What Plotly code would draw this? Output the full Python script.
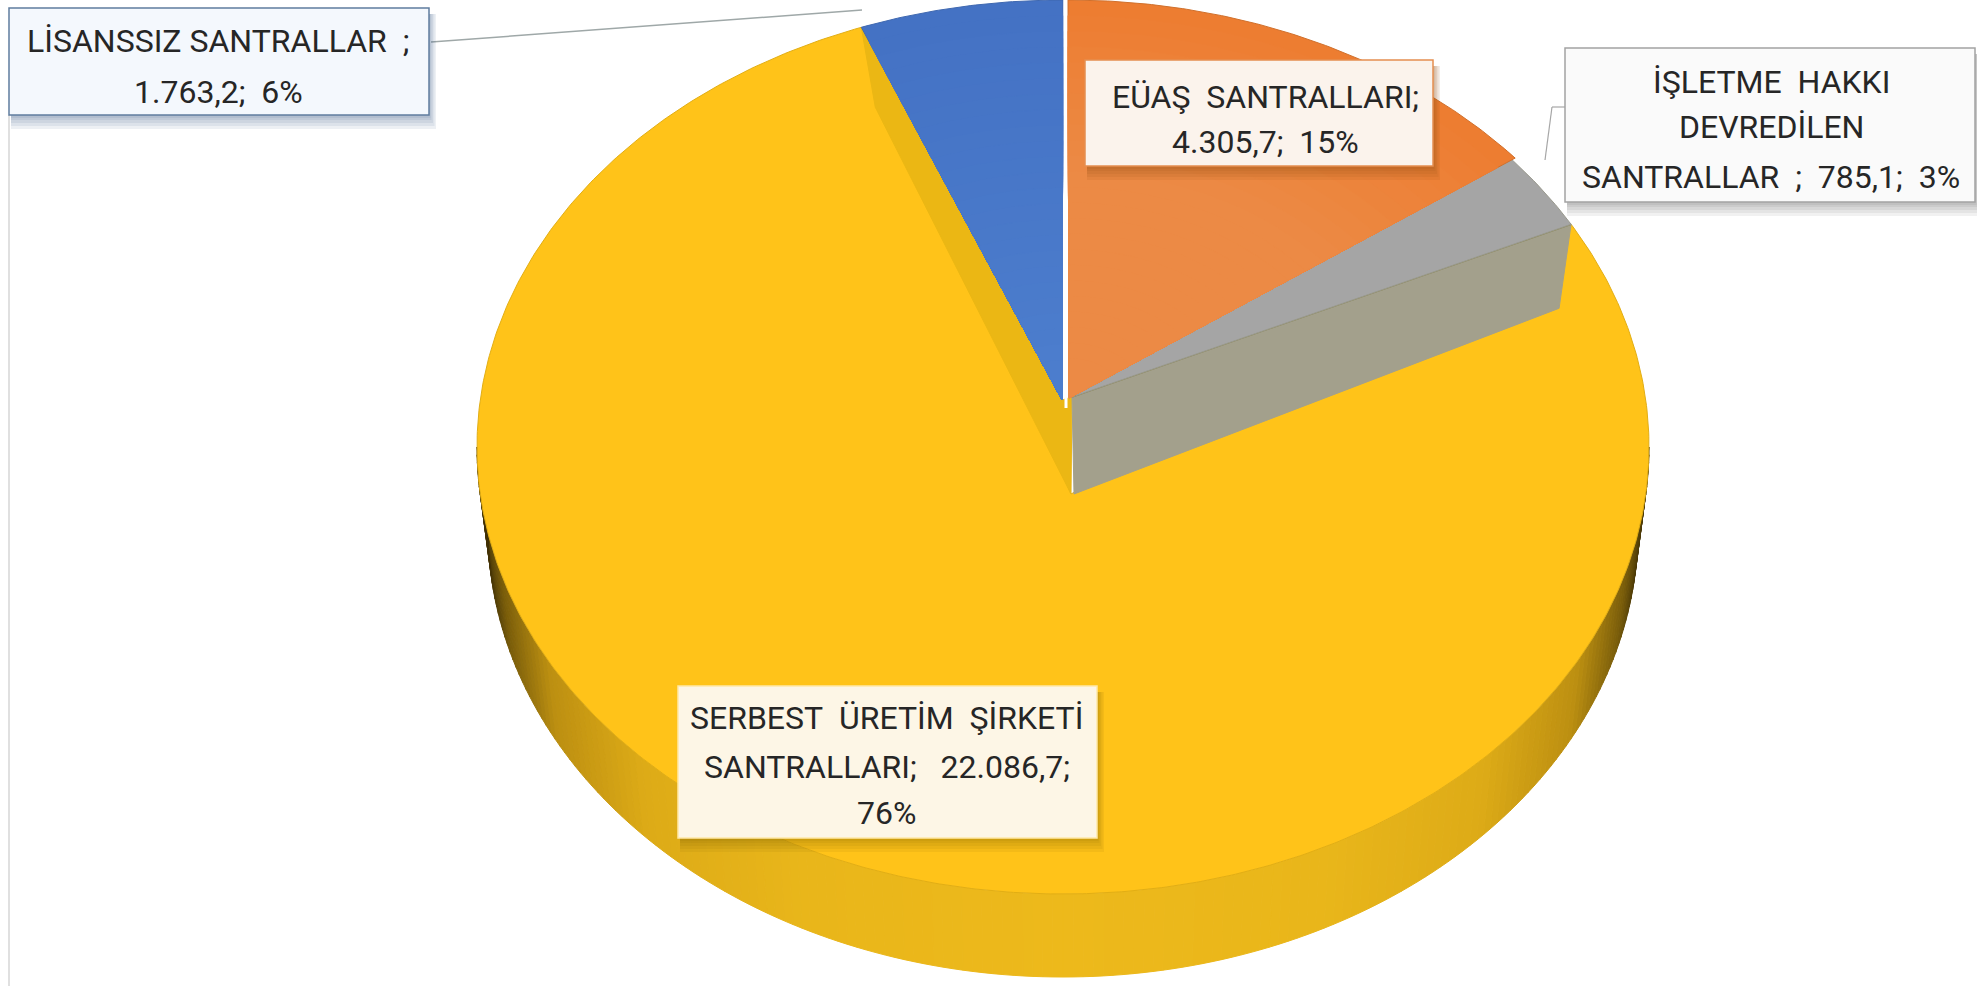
import numpy as np
import plotly.graph_objects as go

# ---------- data ----------
names = ["EÜAŞ SANTRALLARI", "İŞLETME HAKKI DEVREDİLEN SANTRALLAR", "SERBEST ÜRETİM ŞİRKETİ SANTRALLARI", "LİSANSSIZ SANTRALLAR"]
values = [4305.7, 785.1, 22086.7, 1763.2]
colors = ["#ED7D31", "#A5A5A5", "#FFC319", "#4674C6"]

# ---------- geometry / style ----------
W, H = 1977, 986
CX, CY, A, B = 1063, 447, 586, 447          # top face
BCX, BCY, BA, BB = 1063, 529, 575, 448      # bottom rim
SANS = "Roboto"
FS = 32

total = sum(values)
fr = [v / total for v in values]
edges = np.concatenate([[0], np.cumsum(fr) * 360])


def phi(theta):
    """Perspective warp of a pie angle onto the drawn ellipse."""
    theta = np.asarray(theta, dtype=float)
    k = np.where(theta > 180, 2.6, 4.0)
    return np.radians(theta - k * np.sin(2 * np.radians(theta)))


def rim(theta, cx=CX, cy=CY, a=A, b=B):
    p = phi(theta)
    return cx + a * np.sin(p), cy - b * np.cos(p)


def wedge(apex, t0, t1, scale=1.0, shift=(0, 0)):
    th = np.arange(t0, t1, 0.5)
    th = np.append(th, t1)
    x, y = rim(th)
    x = apex[0] + (x + shift[0] - apex[0]) * scale
    y = apex[1] + (y + shift[1] - apex[1]) * scale
    return np.r_[apex[0], x, apex[0]], np.r_[apex[1], y, apex[1]]


def poly(xs, ys, fill, line=None, lw=1):
    return go.Scatter(x=list(xs), y=list(ys), mode="lines", fill="toself", fillcolor=fill,
                      line=dict(color=line or fill, width=lw), hoverinfo="skip", showlegend=False)


def mix(c1, c2, t):
    a = np.array([int(c1[i:i + 2], 16) for i in (1, 3, 5)], float)
    b = np.array([int(c2[i:i + 2], 16) for i in (1, 3, 5)], float)
    r = (a + (b - a) * t).round().astype(int)
    return "#%02X%02X%02X" % tuple(r)


fig = go.Figure()

# side wall, shaded strip by strip
stops_t = [0.0, 0.45, 0.72, 0.88, 0.96, 1.0]
stops = ["#EDB91B", "#E9B61A", "#DDAB17", "#BC8F11", "#7A5D0A", "#3F3006"]
STEP = 1.0
for d in np.arange(90, 270, STEP):
    p0, p1 = np.radians(d), np.radians(d + STEP)
    xt = CX + A * np.sin([p0, p1])
    yt = CY - B * np.cos([p0, p1])
    xb = BCX + BA * np.sin([p1, p0])
    yb = BCY - BB * np.cos([p1, p0])
    t = abs(np.sin(np.radians(d + STEP / 2)))
    i = min(np.searchsorted(stops_t, t, side="right") - 1, len(stops) - 2)
    col = mix(stops[i], stops[i + 1], (t - stops_t[i]) / (stops_t[i + 1] - stops_t[i]))
    fig.add_trace(poly(np.r_[xt, xb, xt[0]], np.r_[yt, yb, yt[0]], col))

orange_apex = (1069, 398)
grey_apex = (1072, 397)
blue_apex = (1062, 400)
low_apex = (1071, 494)

# yellow slice
x, y = wedge(low_apex, edges[2], edges[3])
fig.add_trace(poly(x, y, colors[2], "#E2AE14", 1))

# cut wall of the yellow slice, beside the blue one
bx, by = rim(edges[3])
fig.add_trace(poly([bx, blue_apex[0], grey_apex[0], low_apex[0], bx + 14, bx],
                   [by, blue_apex[1], grey_apex[1], low_apex[1], by + 80, by], "#EBB714"))

# cut wall of the grey slice
gx, gy = rim(edges[2])
fig.add_trace(poly([gx, grey_apex[0], low_apex[0] + 3, gx - 12, gx],
                   [gy, grey_apex[1], low_apex[1], gy + 84, gy], "#A3A08C"))
fig.add_trace(go.Scatter(x=[grey_apex[0], gx], y=[grey_apex[1], gy], mode="lines",
                         line=dict(color="#8C8758", width=1.5), hoverinfo="skip", showlegend=False))

# blue slice, with a soft radial shade
N = 24
for n, s in enumerate(np.linspace(1, 0.1, N)):
    c = mix("#4472C4", "#4C7DCD", n / (N - 1))
    x, y = wedge(blue_apex, edges[3], 360, s)
    fig.add_trace(poly(x, y, c, "#3F68B0" if n == 0 else c))

# grey slice
x, y = wedge(grey_apex, edges[1], edges[2])
fig.add_trace(poly(x, y, colors[1], "#9A9A8E", 1))

# orange slice, shaded
for n, s in enumerate(np.linspace(1, 0.1, N)):
    c = mix("#ED7D31", "#EC8A45", min(n / (N - 1) * 2.2, 1))
    x, y = wedge(orange_apex, 0, edges[1], s, shift=(5, 0))
    fig.add_trace(poly(x, y, c, "#D0702C" if n == 0 else c))

# white seam between blue and orange
fig.add_trace(go.Scatter(x=[CX + 2, CX + 3], y=[0, blue_apex[1] + 8], mode="lines",
                         line=dict(color="#FFFFFF", width=3), hoverinfo="skip", showlegend=False))


# ---------- labels ----------
def tr_num(v):
    return f"{v:,.1f}".replace(",", "#").replace(".", ",").replace("#", ".")


pct = [f"{round(f * 100)}%" for f in fr]
NB = "\u00a0"
label_lines = [
    [f"EÜAŞ{NB}{NB}SANTRALLARI;", f"{tr_num(values[0])};{NB}{NB}{pct[0]}"],
    [f"İŞLETME{NB}{NB}HAKKI", "DEVREDİLEN", f"SANTRALLAR{NB}{NB};{NB}{NB}{tr_num(values[1])};{NB}{NB}{pct[1]}"],
    [f"SERBEST{NB}{NB}ÜRETİM{NB}{NB}ŞİRKETİ", f"SANTRALLARI;{NB}{NB}{NB}{tr_num(values[2])};", pct[2]],
    [f"LİSANSSIZ{NB}SANTRALLAR{NB}{NB};", f"{tr_num(values[3])};{NB}{NB}{pct[3]}"],
]
boxes = [(1085, 60, 1433, 166), (1565, 48, 1975, 202), (678, 686, 1097, 838), (9, 8, 429, 115)]
fills = ["#FBF3EC", "#FAFAFA", "#FDF6E6", "#F4F8FD"]
borders = ["#E58E50", "#A3A3A3", "#FFE9A8", "#5F7C9E"]
shadows = ["rgba(150,75,20,0.10)", "rgba(60,60,60,0.07)", "rgba(120,85,0,0.08)", "rgba(60,85,130,0.09)"]
line_y = [[97, 142], [82, 127, 177], [718, 767, 813], [41, 92]]
text_x = [(1085 + 1433) / 2 + 6, (1565 + 1975) / 2 + 1, (678 + 1097) / 2 - 1, (9 + 429) / 2 - 1]

shapes = [
    dict(type="line", x0=9, x1=9, y0=115, y1=H, line=dict(color="#D6D6D6", width=1.5), layer="below"),
    dict(type="line", x0=431, y0=42, x1=862, y1=10, line=dict(color="#9FA8A8", width=1.5)),
    dict(type="line", x0=1565, y0=107, x1=1552, y1=107, line=dict(color="#A6A6A6", width=1.2)),
    dict(type="line", x0=1552, y0=107, x1=1545, y1=160, line=dict(color="#A6A6A6", width=1.2)),
]
for (x0, y0, x1, y1), f, b, sh in zip(boxes, fills, borders, shadows):
    for off in (14, 11, 8, 5, 3):
        shapes.append(dict(type="rect", x0=x0 + 2, x1=x1 + off * 0.5, y0=y0 + 6, y1=y1 + off,
                           fillcolor=sh, line=dict(width=0)))
    shapes.append(dict(type="rect", x0=x0, x1=x1, y0=y0, y1=y1, fillcolor=f, line=dict(color=b, width=1.5)))

annotations = []
for lines, ys, tx in zip(label_lines, line_y, text_x):
    for s, yy in zip(lines, ys):
        annotations.append(dict(x=tx, y=yy, text=s, showarrow=False, xanchor="center", yanchor="middle",
                                font=dict(family=SANS, size=FS, color="#262626")))

fig.update_layout(
    width=W, height=H, margin=dict(l=0, r=0, t=0, b=0), paper_bgcolor="white", plot_bgcolor="white",
    xaxis=dict(range=[0, W], visible=False, fixedrange=True),
    yaxis=dict(range=[H, 0], visible=False, fixedrange=True),
    shapes=shapes, annotations=annotations, showlegend=False,
)
fig.write_html("out.html", config=dict(displayModeBar=False),
               post_script="document.body.style.margin='0';document.body.style.overflow='hidden';")
